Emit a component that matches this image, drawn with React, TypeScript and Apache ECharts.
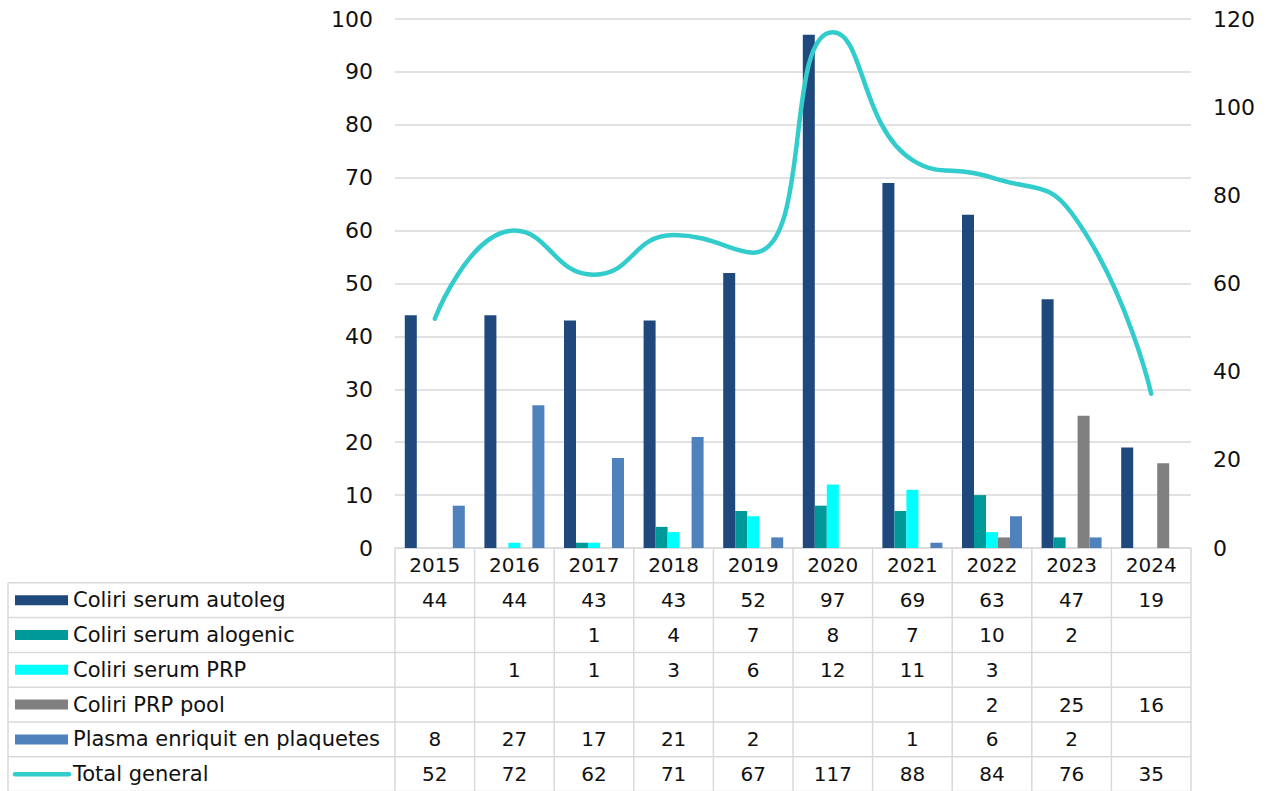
import React, { useEffect, useRef } from "react";
import * as echarts from "echarts";

const years = ["2015", "2016", "2017", "2018", "2019", "2020", "2021", "2022", "2023", "2024"];
const autoleg = [44, 44, 43, 43, 52, 97, 69, 63, 47, 19];
const alogenic = [null, null, 1, 4, 7, 8, 7, 10, 2, null];
const prp = [null, 1, 1, 3, 6, 12, 11, 3, null, null];
const pool = [null, null, null, null, null, null, null, 2, 25, 16];
const plasma = [8, 27, 17, 21, 2, null, 1, 6, 2, null];
const total = [52, 72, 62, 71, 67, 117, 88, 84, 76, 35];

const seriesNames = [
  "Coliri serum autoleg",
  "Coliri serum alogenic",
  "Coliri serum PRP",
  "Coliri PRP pool",
  "Plasma enriquit en plaquetes",
  "Total general",
];
const colors = ["#1F497D", "#009999", "#00FFFF", "#808080", "#4F81BD", "#33CCCC"];

const FONT = "DejaVu Sans";
const GRID = "#D9D9D9";
const TEXT = "#111";

export default function App() {
  const ref = useRef<HTMLDivElement>(null);
  useEffect(() => {
    if (!ref.current) return;
    const chart = echarts.init(ref.current, null, { renderer: "svg" });
    const barData = [autoleg, alogenic, prp, pool, plasma];
    const option: any = {
      animation: false,
      grid: { left: 395, right: 78, top: 19, bottom: 243 },
      xAxis: {
        type: "category",
        data: years,
        axisLine: { lineStyle: { color: GRID, width: 1.5 } },
        axisTick: { show: false },
        axisLabel: { show: false },
      },
      yAxis: [
        {
          type: "value",
          min: 0,
          max: 100,
          interval: 10,
          axisLine: { show: false },
          axisTick: { show: false },
          splitLine: { lineStyle: { color: GRID, width: 1.5 } },
          axisLabel: { fontSize: 22, color: TEXT, margin: 22, fontFamily: FONT },
        },
        {
          type: "value",
          min: 0,
          max: 120,
          interval: 20,
          axisLine: { show: false },
          axisTick: { show: false },
          splitLine: { show: false },
          axisLabel: { fontSize: 22, color: TEXT, margin: 22, fontFamily: FONT },
        },
      ],
      series: [
        ...barData.map((d, i) => ({
          type: "bar",
          name: seriesNames[i],
          data: d,
          barWidth: 12,
          barGap: "0%",
          yAxisIndex: 0,
          itemStyle: { color: colors[i] },
        })),
        {
          type: "line",
          name: seriesNames[5],
          data: total,
          yAxisIndex: 1,
          smooth: 0.5,
          symbol: "none",
          lineStyle: { color: colors[5], width: 4.5, cap: "round" },
          z: 5,
        },
      ],
    };
    chart.setOption(option);

    // Data table below the plot, positioned through the axis scales
    const xs = years.map((y) => chart.convertToPixel({ xAxisIndex: 0 }, y) as number);
    const cw = xs[1] - xs[0];
    const left = xs[0] - cw / 2;
    const right = xs[xs.length - 1] + cw / 2;
    const y0 = chart.convertToPixel({ yAxisIndex: 0 }, 0) as number;
    const rowH = 34.8;
    const tableLeft = 8;
    const nRows = 6;
    const bottom = y0 + rowH * (nRows + 1);
    const els: any[] = [];
    const line = (x1: number, y1: number, x2: number, y2: number) =>
      els.push({
        type: "line",
        shape: { x1, y1, x2, y2 },
        style: { stroke: GRID, lineWidth: 1.5 },
        silent: true,
      });
    for (let i = 0; i <= years.length; i++) {
      const x = left + i * cw;
      line(x, y0, x, bottom);
    }
    line(tableLeft, y0 + rowH, tableLeft, bottom);
    for (let r = 1; r <= nRows + 1; r++) {
      const y = y0 + r * rowH;
      line(tableLeft, y, right, y);
    }
    years.forEach((yr, i) =>
      els.push({
        type: "text",
        x: xs[i],
        y: y0 + rowH / 2,
        style: { text: yr, fill: TEXT, fontSize: 20, fontFamily: FONT, align: "center", verticalAlign: "middle" },
      })
    );
    const rows = [autoleg, alogenic, prp, pool, plasma, total];
    rows.forEach((vals, r) => {
      const cy = y0 + rowH * (r + 1) + rowH / 2;
      if (r < 5) {
        els.push({
          type: "rect",
          shape: { x: 15, y: cy - 5, width: 53, height: 10 },
          style: { fill: colors[r] },
        });
      } else {
        els.push({
          type: "line",
          shape: { x1: 15, y1: cy, x2: 69, y2: cy },
          style: { stroke: colors[r], lineWidth: 4.5, lineCap: "round" },
        });
      }
      els.push({
        type: "text",
        x: 73,
        y: cy,
        style: { text: seriesNames[r], fill: TEXT, fontSize: 21, fontFamily: FONT, align: "left", verticalAlign: "middle" },
      });
      vals.forEach((v, i) => {
        if (v === null || v === undefined) return;
        els.push({
          type: "text",
          x: xs[i],
          y: cy,
          style: { text: String(v), fill: TEXT, fontSize: 20, fontFamily: FONT, align: "center", verticalAlign: "middle" },
        });
      });
    });
    chart.setOption({ graphic: { elements: els } });

    return () => chart.dispose();
  }, []);
  return (
    <div
      ref={ref}
      style={{ position: "fixed", left: 0, top: 0, width: 1269, height: 791, background: "#fff" }}
    />
  );
}
